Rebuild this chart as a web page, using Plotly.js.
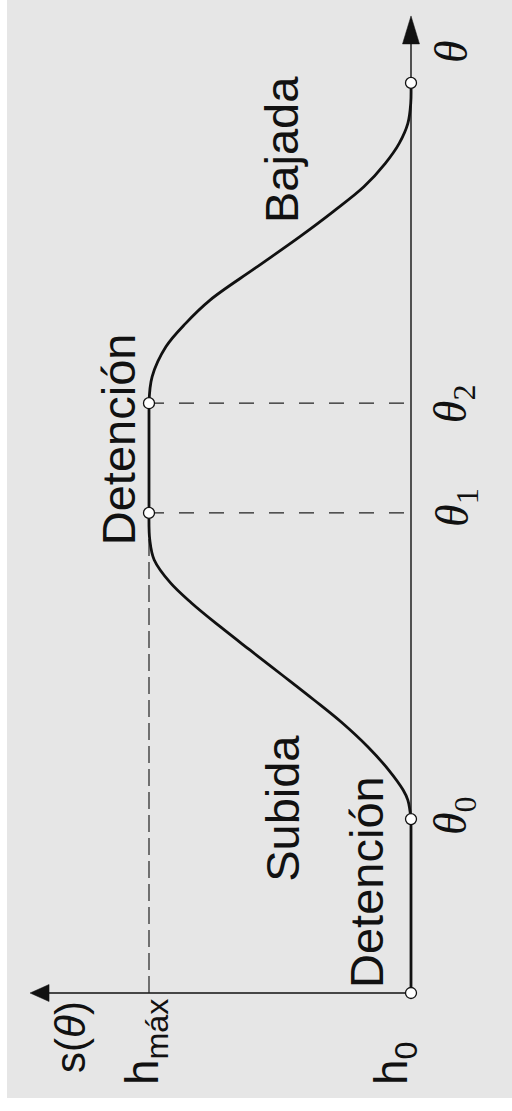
<!DOCTYPE html>
<html>
<head>
<meta charset="utf-8">
<script src="https://cdn.plot.ly/plotly-3.0.1.min.js"></script>
<style>
  html, body { margin: 0; padding: 0; background: #ffffff; }
  #chart { width: 512px; height: 1111px; }
</style>
</head>
<body>
<div id="chart"></div>
<script>
// Cam follower displacement diagram s(θ): dwell, rise, dwell, fall.
// The θ axis runs upward and s grows to the left, so all text is turned 90°.

// Lift levels (s units)
const H0 = 0;
const HMAX = 1;

// Key cam angles (degrees)
const THETA_0 = 68.8;
const THETA_1 = 189.9;
const THETA_2 = 233.3;
const THETA_END = 360;

// Axis extents
const THETA_AXIS_TIP = 386.5;
const S_AXIS_TIP = 1.454;

// Rise from h0 to hmáx
const riseTheta = [68.8, 76.3, 80.3, 88.2, 97.4, 106.8, 115.9, 125.8, 135.7, 144.8, 154.3, 162.2, 171.3, 179.2, 189.9];
const riseS     = [0, 0.012, 0.030, 0.085, 0.165, 0.262, 0.370, 0.492, 0.615, 0.727, 0.838, 0.918, 0.980, 0.997, 1];

// Fall from hmáx back to h0
const fallTheta = [233.3, 243.8, 255.7, 264.9, 274.1, 286.7, 299.2, 309.1, 318.9, 328.2, 336.1, 344.0, 352.0, 360];
const fallS     = [1, 0.988, 0.935, 0.860, 0.767, 0.595, 0.424, 0.297, 0.180, 0.098, 0.045, 0.012, 0.001, 0];

// Dwell stretches
const dwellLowTheta  = [0, THETA_0];
const dwellLowS      = [H0, H0];
const dwellHighTheta = [THETA_1, THETA_2];
const dwellHighS     = [HMAX, HMAX];

// Marked points on the profile
const markTheta = [0, THETA_0, THETA_1, THETA_2, THETA_END];
const markS     = [H0, H0, HMAX, HMAX, H0];

const INK = '#111111';
const SANS = 'Liberation Sans, Arial, Helvetica, sans-serif';
const SERIF = 'Liberation Serif, Times New Roman, serif';

const curveLine = { color: INK, width: 2.8 };

function segment(x, y, smooth) {
  return {
    x: x, y: y, type: 'scatter', mode: 'lines',
    line: Object.assign({}, curveLine, smooth ? { shape: 'spline', smoothing: 1 } : { shape: 'linear' }),
    hoverinfo: 'skip'
  };
}

const traces = [
  segment(dwellLowS, dwellLowTheta, false),
  segment(riseS, riseTheta, true),
  segment(dwellHighS, dwellHighTheta, false),
  segment(fallS, fallTheta, true),
  {
    x: markS, y: markTheta,
    type: 'scatter', mode: 'markers',
    marker: { symbol: 'circle', size: 11, color: '#ffffff', line: { color: INK, width: 1.3 } },
    hoverinfo: 'skip'
  }
];

const dashLong = '15px,15px';
const dashTight = '17px,6px';

const shapes = [
  // θ axis
  { type: 'line', layer: 'below', xref: 'x', yref: 'y', x0: H0, x1: H0, y0: 0, y1: THETA_AXIS_TIP - 10,
    line: { color: INK, width: 1.4 } },
  // s axis
  { type: 'line', layer: 'below', xref: 'x', yref: 'y', x0: H0, x1: S_AXIS_TIP - 0.04, y0: 0, y1: 0,
    line: { color: INK, width: 1.4 } },
  // arrow heads
  { type: 'path', xref: 'x', yref: 'y', xsizemode: 'pixel', ysizemode: 'pixel',
    xanchor: H0, yanchor: THETA_AXIS_TIP, path: 'M0,0 L-8.5,-28 L8.5,-28 Z',
    fillcolor: INK, line: { color: INK, width: 0.5 } },
  { type: 'path', xref: 'x', yref: 'y', xsizemode: 'pixel', ysizemode: 'pixel',
    xanchor: S_AXIS_TIP, yanchor: 0, path: 'M0,0 L19,8.5 L19,-8.5 Z',
    fillcolor: INK, line: { color: INK, width: 0.5 } },
  // hmáx reference line
  { type: 'line', layer: 'below', xref: 'x', yref: 'y', x0: HMAX, x1: HMAX, y0: 0, y1: THETA_1,
    line: { color: '#222222', width: 1.2, dash: dashTight } },
  // θ1 and θ2 projections onto the θ axis
  { type: 'line', layer: 'below', xref: 'x', yref: 'y', x0: HMAX, x1: H0, y0: THETA_1, y1: THETA_1,
    line: { color: '#222222', width: 1.2, dash: dashLong } },
  { type: 'line', layer: 'below', xref: 'x', yref: 'y', x0: HMAX, x1: H0, y0: THETA_2, y1: THETA_2,
    line: { color: '#222222', width: 1.2, dash: dashLong } }
];

function label(text, x, y, opts) {
  return Object.assign({
    text: text, x: x, y: y, xref: 'x', yref: 'y',
    showarrow: false, textangle: -90,
    xanchor: 'center', yanchor: 'middle',
    font: { family: SANS, size: 47, color: INK }
  }, opts || {});
}

const thetaFont = { family: SERIF, size: 46, color: INK };

const annotations = [
  label('Detención', 0.172, 43.9),
  label('Subida', 0.489, 73.2),
  label('Detención', 1.118, 219.1),
  label('Bajada', 0.492, 333.5),
  label('s(<i>θ</i>)', 1.302, -17.4, { font: { family: SANS, size: 42, color: INK } }),
  label('h<sub>máx</sub>', HMAX, -19.4, { xshift: -4, font: { family: SANS, size: 46, color: INK } }),
  label('h<sub>0</sub>', H0, -27.7, { xshift: -17, font: { family: SANS, size: 46, color: INK } }),
  label('<i>θ</i>', H0, 372.2, { xshift: 40, font: thetaFont }),
  label('<i>θ</i><sub>0</sub>', H0, THETA_0, { xshift: 43, yshift: 3, font: thetaFont }),
  label('<i>θ</i><sub>1</sub>', H0, THETA_1, { xshift: 45, yshift: 5, font: thetaFont }),
  label('<i>θ</i><sub>2</sub>', H0, THETA_2, { xshift: 43, yshift: -1, font: thetaFont })
];

const layout = {
  width: 512,
  height: 1111,
  margin: { l: 7, r: 0, t: 0, b: 13, pad: 0 },
  paper_bgcolor: '#ffffff',
  plot_bgcolor: '#e6e6e6',
  showlegend: false,
  xaxis: { range: [1.542, -0.3855], visible: false, fixedrange: true },
  yaxis: { range: [-41.53, 392.8], visible: false, fixedrange: true },
  shapes: shapes,
  annotations: annotations
};

Plotly.newPlot('chart', traces, layout, { staticPlot: true, displayModeBar: false });
</script>
</body>
</html>
